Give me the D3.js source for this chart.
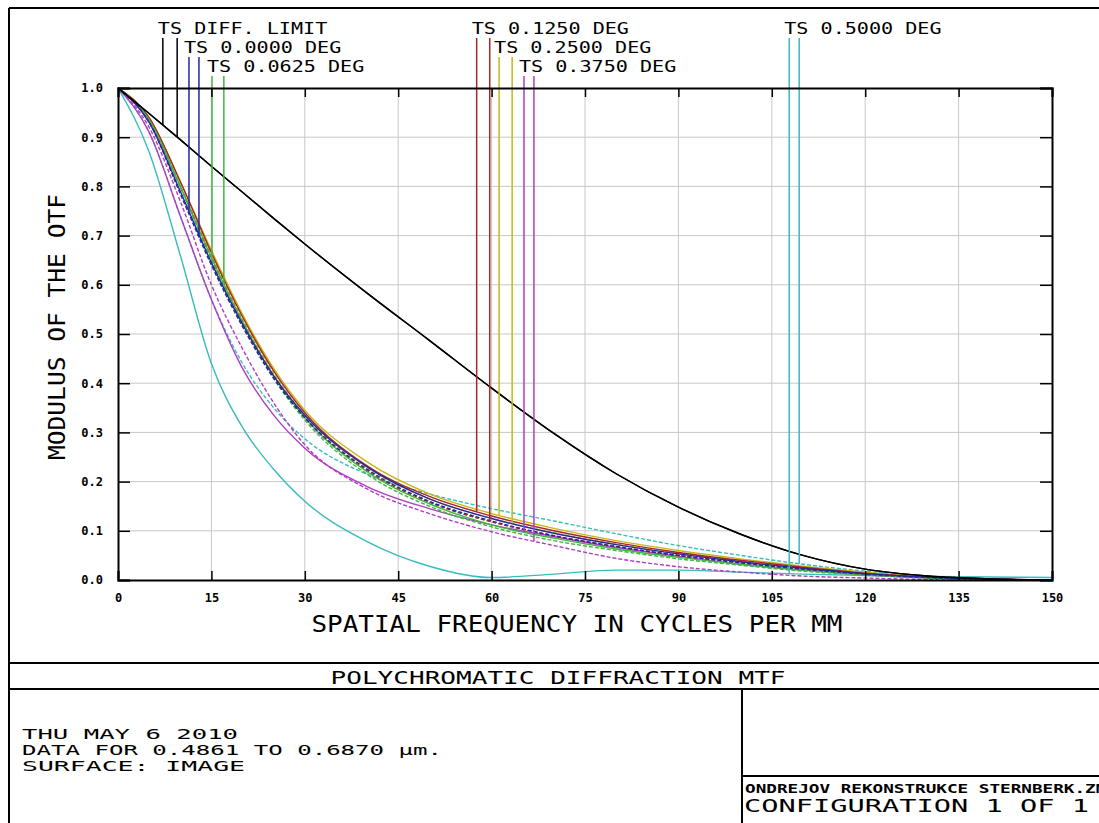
<!DOCTYPE html>
<html>
<head>
<meta charset="utf-8">
<script src="https://cdn.jsdelivr.net/npm/d3@7"></script>
<style>
  html, body { margin: 0; padding: 0; background: #fff; }
  svg { display: block; }
  .zfont { font-family: "DejaVu Sans Mono", "Liberation Mono", monospace; }
</style>
</head>
<body>
<div id="chart"></div>
<script>
// ---------------------------------------------------------------------------
// Data

const freqs = [0, 5, 10, 15, 20, 25, 30, 40, 50, 60, 70, 80, 90, 100, 110, 120, 130, 140, 150];

const diffLimit = [1, 0.948, 0.895, 0.841, 0.788, 0.735, 0.683, 0.583, 0.487, 0.39, 0.298, 0.216, 0.148, 0.093, 0.05, 0.022, 0.008, 0.002, 0];
const blueT   = [1, 0.93, 0.79, 0.645, 0.52, 0.415, 0.335, 0.23, 0.165, 0.125, 0.095, 0.072, 0.053, 0.037, 0.024, 0.013, 0.006, 0.002, 0];
const blueS   = [1, 0.93, 0.785, 0.64, 0.515, 0.41, 0.33, 0.225, 0.16, 0.12, 0.09, 0.068, 0.05, 0.035, 0.022, 0.012, 0.005, 0.001, 0];
const greenT  = [1, 0.935, 0.8, 0.655, 0.525, 0.415, 0.33, 0.22, 0.155, 0.112, 0.085, 0.063, 0.046, 0.032, 0.02, 0.011, 0.005, 0.001, 0];
const greenS  = [1, 0.935, 0.8, 0.65, 0.52, 0.41, 0.325, 0.215, 0.15, 0.108, 0.08, 0.06, 0.043, 0.03, 0.018, 0.01, 0.004, 0.001, 0];
const redT    = [1, 0.94, 0.81, 0.665, 0.535, 0.425, 0.34, 0.232, 0.17, 0.13, 0.1, 0.076, 0.056, 0.04, 0.026, 0.014, 0.006, 0.002, 0];
const redS    = [1, 0.935, 0.8, 0.655, 0.525, 0.415, 0.33, 0.222, 0.158, 0.118, 0.09, 0.068, 0.05, 0.035, 0.022, 0.012, 0.005, 0.001, 0];
const yellowT = [1, 0.94, 0.81, 0.67, 0.54, 0.43, 0.345, 0.24, 0.175, 0.135, 0.105, 0.08, 0.06, 0.043, 0.028, 0.016, 0.007, 0.002, 0];
const yellowS = [1, 0.935, 0.8, 0.66, 0.53, 0.42, 0.335, 0.228, 0.165, 0.125, 0.096, 0.073, 0.054, 0.038, 0.024, 0.013, 0.006, 0.001, 0];
const purpleT = [1, 0.91, 0.74, 0.57, 0.43, 0.335, 0.268, 0.19, 0.145, 0.112, 0.088, 0.066, 0.048, 0.032, 0.02, 0.01, 0.004, 0.001, 0];
const purpleS = [1, 0.92, 0.77, 0.6, 0.47, 0.36, 0.275, 0.185, 0.135, 0.098, 0.07, 0.044, 0.027, 0.016, 0.008, 0.004, 0.001, 0, 0];
const cyanT   = [1, 0.87, 0.66, 0.44, 0.31, 0.225, 0.16, 0.078, 0.028, 0.005, 0.012, 0.02, 0.02, 0.016, 0.012, 0.009, 0.007, 0.006, 0.005];
const cyanS   = [1, 0.91, 0.74, 0.57, 0.44, 0.35, 0.287, 0.215, 0.175, 0.145, 0.12, 0.094, 0.07, 0.05, 0.032, 0.018, 0.008, 0.002, 0];

const fieldLabels = ['TS DIFF. LIMIT', 'TS 0.0000 DEG', 'TS 0.0625 DEG', 'TS 0.1250 DEG',
  'TS 0.2500 DEG', 'TS 0.3750 DEG', 'TS 0.5000 DEG'];
const fieldColors = ['#000000', '#26269e', '#3cb83c', '#a82626', '#c4b818', '#b03cc4', '#38bcbc'];
const fieldT = [diffLimit, blueT, greenT, redT, yellowT, purpleT, cyanT];
const fieldS = [diffLimit, blueS, greenS, redS, yellowS, purpleS, cyanS];
// frequencies of the two legend marker lines of each field
const markerFreqs = [[7.2, 9.5], [11.4, 13.0], [15.1, 17.0], [57.6, 59.7], [61.2, 63.3], [65.2, 66.8], [107.8, 109.4]];
const labelRow = [0, 1, 2, 0, 1, 2, 0];

const xTicks = [0, 15, 30, 45, 60, 75, 90, 105, 120, 135, 150];
const yTicks = [0, 0.1, 0.2, 0.3, 0.4, 0.5, 0.6, 0.7, 0.8, 0.9, 1.0];

const xTitle = 'SPATIAL FREQUENCY IN CYCLES PER MM';
const yTitle = 'MODULUS OF THE OTF';
const chartTitle = 'POLYCHROMATIC DIFFRACTION MTF';
const infoLines = ['THU MAY 6 2010', 'DATA FOR 0.4861 TO 0.6870 \u00b5m.', 'SURFACE: IMAGE'];
const fileName = 'ONDREJOV REKONSTRUKCE STERNBERK.ZMX';
const configLine = 'CONFIGURATION 1 OF 1';

// ---------------------------------------------------------------------------
// Layout

const width = 1099;
const height = 823;
const plot = { left: 118, top: 88, right: 1052, bottom: 580 };

const svg = d3.select('#chart').append('svg')
  .attr('width', width)
  .attr('height', height);

svg.append('rect').attr('width', width).attr('height', height).attr('fill', '#fff');

const x = d3.scaleLinear().domain([0, 150]).range([plot.left, plot.right]);
const y = d3.scaleLinear().domain([0, 1]).range([plot.bottom, plot.top]);

// text with a fixed drawn length, so the tall narrow plotter font can be mimicked
function addText(parent, str, px, py, size, len, opts) {
  opts = opts || {};
  let t = parent.append('text')
    .attr('class', 'zfont')
    .attr('x', px)
    .attr('y', py)
    .attr('font-size', size)
    .attr('font-weight', opts.weight || 'normal')
    .attr('text-anchor', opts.anchor || 'start')
    .attr('fill', '#000')
    .text(str);
  if (len) {
    t.attr('textLength', len).attr('lengthAdjust', 'spacingAndGlyphs');
  }
  if (opts.transform) t.attr('transform', opts.transform);
  return t;
}

// ---------------------------------------------------------------------------
// Frame

const frame = svg.append('g')
  .attr('stroke', '#000')
  .attr('stroke-width', 2)
  .attr('fill', 'none');
frame.append('line').attr('x1', 9).attr('y1', 8).attr('x2', width).attr('y2', 8);
frame.append('line').attr('x1', 9).attr('y1', 8).attr('x2', 9).attr('y2', height);
frame.append('line').attr('x1', 9).attr('y1', 663).attr('x2', width).attr('y2', 663);
frame.append('line').attr('x1', 9).attr('y1', 689).attr('x2', width).attr('y2', 689);
frame.append('line').attr('x1', 742).attr('y1', 689).attr('x2', 742).attr('y2', height);
frame.append('line').attr('x1', 742).attr('y1', 776).attr('x2', width).attr('y2', 776);

// ---------------------------------------------------------------------------
// Grid

const grid = svg.append('g').attr('stroke', '#c8c8c8').attr('stroke-width', 1);
grid.selectAll('.gx')
  .data(xTicks.slice(1, -1))
  .enter().append('line')
  .attr('x1', d => x(d)).attr('x2', d => x(d))
  .attr('y1', plot.top).attr('y2', plot.bottom);
grid.selectAll('.gy')
  .data(yTicks.slice(1, -1))
  .enter().append('line')
  .attr('y1', d => y(d)).attr('y2', d => y(d))
  .attr('x1', plot.left).attr('x2', plot.right);

// ---------------------------------------------------------------------------
// Curves

svg.append('clipPath').attr('id', 'plot-clip')
  .append('rect')
  .attr('x', plot.left).attr('y', plot.top - 1)
  .attr('width', plot.right - plot.left).attr('height', plot.bottom - plot.top + 1);

const line = d3.line()
  .x((d, i) => x(freqs[i]))
  .y(d => y(d))
  .curve(d3.curveMonotoneX);

const curves = svg.append('g').attr('clip-path', 'url(#plot-clip)').attr('fill', 'none');

// draw the aberrated fields first and the diffraction limit on top
const order = [6, 5, 4, 3, 2, 1, 0];
order.forEach(i => {
  curves.append('path')
    .attr('d', line(fieldS[i]))
    .attr('stroke', fieldColors[i])
    .attr('stroke-width', 1.4)
    .attr('stroke-dasharray', i === 0 ? null : '4,2');
  curves.append('path')
    .attr('d', line(fieldT[i]))
    .attr('stroke', fieldColors[i])
    .attr('stroke-width', 1.4);
});

// ---------------------------------------------------------------------------
// Legend: labels on three rows, two marker lines dropping to the curves

function valueAt(series, f) {
  return d3.scaleLinear().domain(freqs).range(series).clamp(true)(f);
}

const rowBase = [34, 53, 72];
const legend = svg.append('g');
fieldLabels.forEach((label, i) => {
  let r = labelRow[i];
  addText(legend, label, x(markerFreqs[i][0]) - 5, rowBase[r], 16, label.length * 12.1);
  [fieldT[i], fieldS[i]].forEach((series, k) => {
    let f = markerFreqs[i][k];
    legend.append('line')
      .attr('x1', x(f)).attr('x2', x(f))
      .attr('y1', rowBase[r] + 4)
      .attr('y2', y(valueAt(series, f)))
      .attr('stroke', fieldColors[i])
      .attr('stroke-width', 1.5);
  });
});

// ---------------------------------------------------------------------------
// Axes

const axisFont = g => g.selectAll('text')
  .attr('class', 'zfont')
  .attr('font-size', 12)
  .attr('font-weight', 'bold')
  .attr('fill', '#000');

const xAxis = svg.append('g')
  .attr('transform', `translate(0,${plot.bottom})`)
  .call(d3.axisBottom(x).tickValues(xTicks).tickSize(-9).tickPadding(13).tickFormat(d3.format('d')));
const xAxisTop = svg.append('g')
  .attr('transform', `translate(0,${plot.top})`)
  .call(d3.axisTop(x).tickValues(xTicks).tickSize(-9).tickFormat(''));
const yAxis = svg.append('g')
  .attr('transform', `translate(${plot.left},0)`)
  .call(d3.axisLeft(y).tickValues(yTicks).tickSize(-12).tickPadding(15).tickFormat(d3.format('.1f')));
const yAxisRight = svg.append('g')
  .attr('transform', `translate(${plot.right},0)`)
  .call(d3.axisRight(y).tickValues(yTicks).tickSize(-12).tickFormat(''));

[xAxis, xAxisTop, yAxis, yAxisRight].forEach(a => {
  a.call(axisFont);
  a.attr('font-family', null);
  a.select('.domain').attr('stroke', '#000').attr('stroke-width', 2);
  a.selectAll('.tick line').attr('stroke', '#000').attr('stroke-width', 1.5);
});

// axis titles
addText(svg, xTitle, 577, 632, 23, 531, { anchor: 'middle' });
addText(svg, yTitle, 0, 0, 23, 266, { anchor: 'middle', transform: 'translate(65,327) rotate(-90)' });

// ---------------------------------------------------------------------------
// Title block

addText(svg, chartTitle, 558, 684, 17, 455, { anchor: 'middle' });
infoLines.forEach((s, i) => {
  let lens = [216, 420, 223];
  addText(svg, s, 22, 739 + i * 16, 13.5, lens[i]);
});
addText(svg, fileName, 745, 793, 13, 372, { weight: 'bold' });
addText(svg, configLine, 744, 812, 17, 345);
</script>
</body>
</html>
